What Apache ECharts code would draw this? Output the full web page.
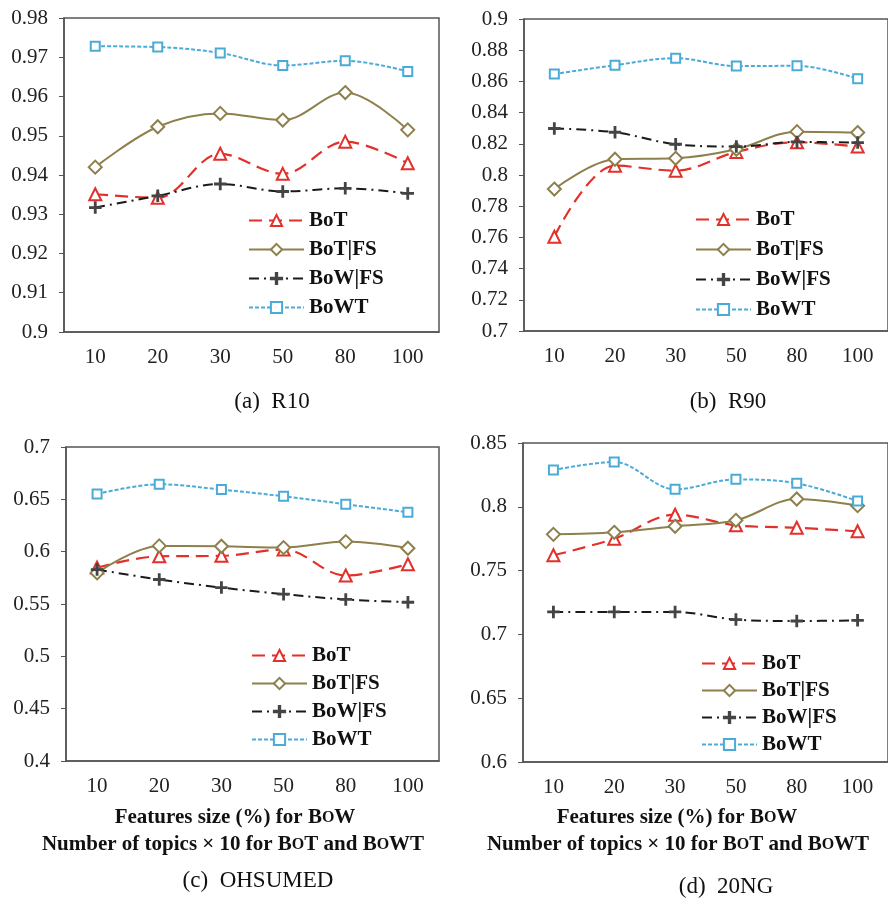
<!DOCTYPE html>
<html>
<head>
<meta charset="utf-8">
<script src="https://cdn.jsdelivr.net/npm/echarts@6/dist/echarts.min.js"></script>
<style>
  html, body { margin: 0; padding: 0; background: #fff; }
  #chart { width: 888px; height: 904px; }
</style>
</head>
<body>
<div id="chart"></div>
<script>
// x categories, same for all four panels
var categories = ['10', '20', '30', '50', '80', '100'];
var seriesNames = ['BoT', 'BoT|FS', 'BoW|FS', 'BoWT'];

// (a) R10
var r10BoT   = [0.9351, 0.9342, 0.9454, 0.9403, 0.9485, 0.9430];
var r10BoTFS = [0.9420, 0.9523, 0.9557, 0.9540, 0.9610, 0.9515];
var r10BoWFS = [0.9317, 0.9347, 0.9377, 0.9358, 0.9366, 0.9353];
var r10BoWT  = [0.9728, 0.9726, 0.9711, 0.9679, 0.9691, 0.9664];

// (b) R90
var r90BoT   = [0.7604, 0.8060, 0.8028, 0.8148, 0.8210, 0.8182];
var r90BoTFS = [0.7910, 0.8101, 0.8107, 0.8165, 0.8278, 0.8272];
var r90BoWFS = [0.8298, 0.8274, 0.8197, 0.8182, 0.8212, 0.8208];
var r90BoWT  = [0.8647, 0.8704, 0.8749, 0.8698, 0.8700, 0.8617];

// (c) OHSUMED
var ohsBoT   = [0.5848, 0.5956, 0.5960, 0.6020, 0.5772, 0.5880];
var ohsBoTFS = [0.5797, 0.6055, 0.6052, 0.6039, 0.6096, 0.6033];
var ohsBoWFS = [0.5829, 0.5734, 0.5657, 0.5594, 0.5544, 0.5517];
var ohsBoWT  = [0.6551, 0.6644, 0.6593, 0.6529, 0.6453, 0.6376];

// (d) 20NG
var ngBoT   = [0.7620, 0.7750, 0.7938, 0.7855, 0.7836, 0.7808];
var ngBoTFS = [0.7784, 0.7800, 0.7847, 0.7894, 0.8061, 0.8009];
var ngBoWFS = [0.7176, 0.7176, 0.7176, 0.7116, 0.7105, 0.7110];
var ngBoWT  = [0.8288, 0.8351, 0.8137, 0.8215, 0.8184, 0.8045];

// y ranges [min, max, interval]
var yRanges = [[0.9, 0.98, 0.01], [0.7, 0.9, 0.02], [0.4, 0.7, 0.05], [0.6, 0.85, 0.05]];

var panelData = [
  [r10BoT, r10BoTFS, r10BoWFS, r10BoWT],
  [r90BoT, r90BoTFS, r90BoWFS, r90BoWT],
  [ohsBoT, ohsBoTFS, ohsBoWFS, ohsBoWT],
  [ngBoT, ngBoTFS, ngBoWFS, ngBoWT]
];

var serif = '"Liberation Serif", "Times New Roman", serif';
var plusPath = 'path://M4.4,0H5.6V4.4H10V5.6H5.6V10H4.4V5.6H0V4.4H4.4Z';

var styles = [
  {color: '#e2302a', mark: '#e2302a', type: [13, 7], width: 2.2, symbol: 'emptyTriangle', size: 12},
  {color: '#8e804c', mark: '#8e804c', type: 'solid', width: 2, symbol: 'emptyDiamond', size: 13},
  {color: '#1a1a1a', mark: '#444', type: [10, 5, 2, 5], width: 2, symbol: plusPath, size: 11},
  {color: '#4aabd8', mark: '#4aabd8', type: [4, 2], width: 2, symbol: 'emptyRect', size: 9}
];

var grids = [
  {left: 64, top: 18, width: 375, height: 314},
  {left: 524, top: 19, width: 364, height: 312},
  {left: 66, top: 447, width: 373, height: 314},
  {left: 523, top: 443, width: 365, height: 319}
];

var legendPos = [
  {left: 243, top: 205, gap: 8},
  {left: 690, top: 204, gap: 9},
  {left: 246, top: 640, gap: 7},
  {left: 696, top: 648, gap: 6}
];

var option = {
  animation: false,
  grid: [],
  xAxis: [],
  yAxis: [],
  legend: [],
  series: [],
  graphic: []
};

for (var p = 0; p < 4; p++) {
  option.grid.push(Object.assign({show: true, borderColor: '#555', borderWidth: 1.5}, grids[p]));
  option.xAxis.push({
    type: 'category',
    gridIndex: p,
    data: categories,
    boundaryGap: true,
    axisLine: {lineStyle: {color: '#555', width: 1.5}},
    axisTick: {alignWithLabel: true, length: 5, lineStyle: {color: '#555'}},
    axisLabel: {color: '#222', fontFamily: serif, fontSize: 21, margin: 15},
    splitLine: {show: false}
  });
  option.yAxis.push({
    type: 'value',
    gridIndex: p,
    min: yRanges[p][0],
    max: yRanges[p][1],
    interval: yRanges[p][2],
    axisLine: {show: true, lineStyle: {color: '#555', width: 1.5}},
    axisTick: {show: true, length: 5, lineStyle: {color: '#555'}},
    axisLabel: {
      color: '#222', fontFamily: serif, fontSize: 21, margin: 16,
      formatter: function (v) { return String(+v.toFixed(3)); }
    },
    splitLine: {show: false}
  });
  option.legend.push({
    orient: 'vertical',
    left: legendPos[p].left,
    top: legendPos[p].top,
    itemGap: legendPos[p].gap,
    itemWidth: 55,
    itemHeight: 14,
    selectedMode: false,
    data: seriesNames,
    textStyle: {fontFamily: serif, fontSize: 21, fontWeight: 'bold', color: '#111', lineHeight: 21}
  });
  for (var s = 0; s < 4; s++) {
    var st = styles[s];
    option.series.push({
      name: seriesNames[s],
      type: 'line',
      xAxisIndex: p,
      yAxisIndex: p,
      data: panelData[p][s],
      smooth: 0.35,
      symbol: st.symbol,
      symbolSize: st.size,
      lineStyle: {color: st.color, type: st.type, width: st.width},
      itemStyle: {color: st.mark, borderColor: st.mark, borderWidth: 1.5}
    });
  }
}

function caption(txt, x, y) {
  return {
    type: 'text', x: x, y: y,
    style: {text: txt, font: '23px ' + serif, fill: '#111', textAlign: 'center', textVerticalAlign: 'middle'}
  };
}

function axisName(x, y, txt) {
  return {
    type: 'text', x: x, y: y,
    style: {
      text: txt, fill: '#111', align: 'center', verticalAlign: 'middle',
      textAlign: 'center', textVerticalAlign: 'middle',
      font: 'bold 21px ' + serif,
      rich: {
        n: {fontFamily: serif, fontSize: 21, fontWeight: 'bold', fill: '#111'},
        s: {fontFamily: serif, fontSize: 16, fontWeight: 'bold', fill: '#111'}
      }
    }
  };
}

option.graphic = [
  caption('(a)  R10', 272, 402),
  caption('(b)  R90', 728, 402),
  caption('(c)  OHSUMED', 258, 881),
  caption('(d)  20NG', 726, 887),
  axisName(235, 818, '{n|Features size (%) for B}{s|O}{n|W}'),
  axisName(233, 845, '{n|Number of topics \u00d7 10 for B}{s|O}{n|T and B}{s|O}{n|WT}'),
  axisName(677, 818, '{n|Features size (%) for B}{s|O}{n|W}'),
  axisName(678, 845, '{n|Number of topics \u00d7 10 for B}{s|O}{n|T and B}{s|O}{n|WT}')
];

var myChart = echarts.init(document.getElementById('chart'));
myChart.setOption(option);
</script>
</body>
</html>
